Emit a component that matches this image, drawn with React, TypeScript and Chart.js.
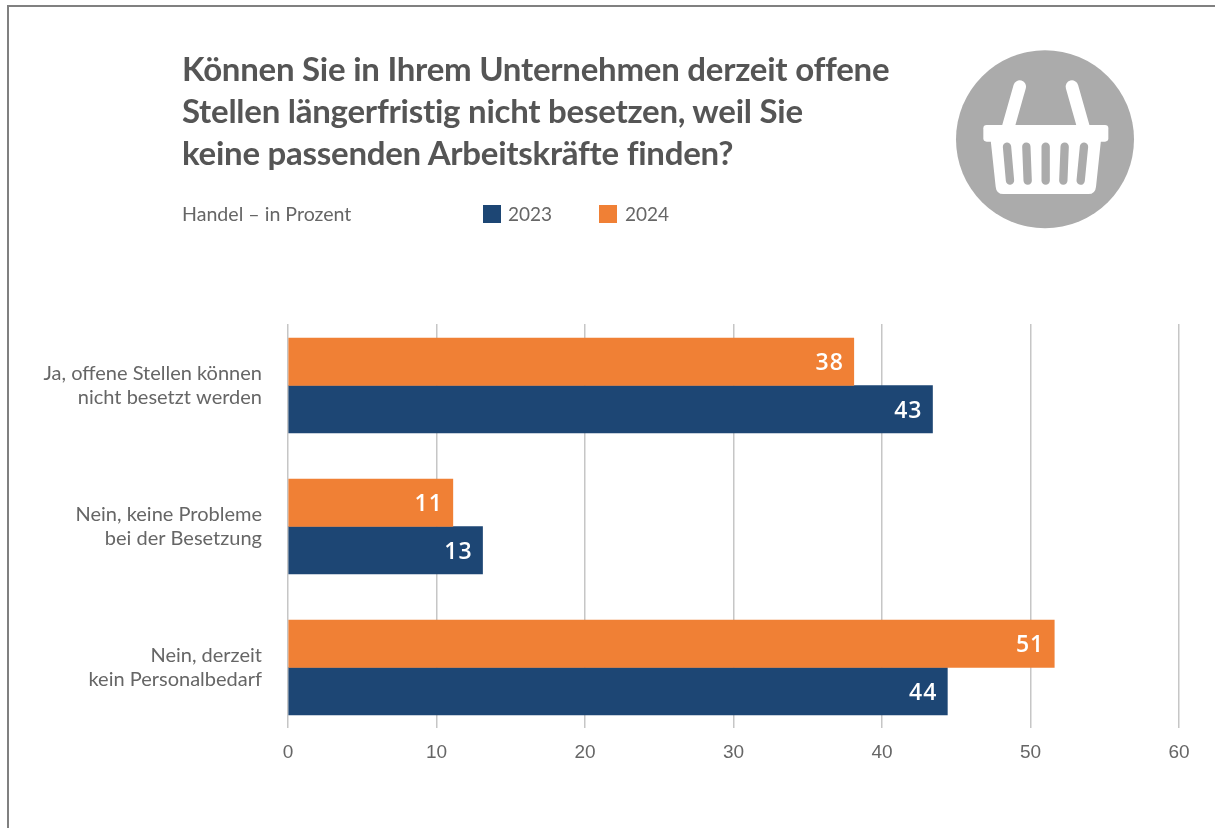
import React, { useEffect, useRef } from "react";
import { Chart, registerables } from "chart.js";

Chart.register(...registerables);

const titleLines = [
  "Können Sie in Ihrem Unternehmen derzeit offene",
  "Stellen längerfristig nicht besetzen, weil Sie",
  "keine passenden Arbeitskräfte finden?",
];
const subtitle = "Handel – in Prozent";
const categories = [
  ["Ja, offene Stellen können", "nicht besetzt werden"],
  ["Nein, keine Probleme", "bei der Besetzung"],
  ["Nein, derzeit", "kein Personalbedarf"],
];
const values2024 = [38.1, 11.1, 51.6];
const values2023 = [43.4, 13.1, 44.4];
const labels2024 = ["38", "11", "51"];
const labels2023 = ["43", "13", "44"];
const xTicks = [0, 10, 20, 30, 40, 50, 60];

const NAVY = "#1d4674";
const ORANGE = "#f08035";
const TEXT = "#666666";
const BODY_FONT = "Lato";

const valueLabels = {
  id: "valueLabels",
  afterDatasetsDraw(chart: any) {
    const { ctx } = chart;
    const texts = [labels2024, labels2023];
    ctx.save();
    ctx.fillStyle = "#ffffff";
    ctx.font = `600 23px "Open Sans"`;
    (ctx as any).letterSpacing = "1px";
    ctx.textAlign = "right";
    ctx.textBaseline = "middle";
    chart.data.datasets.forEach((_: any, d: number) => {
      chart.getDatasetMeta(d).data.forEach((bar: any, i: number) => {
        ctx.fillText(texts[d][i], bar.x - 10, bar.y + 2);
      });
    });
    ctx.restore();
  },
};

export default function App() {
  const ref = useRef<HTMLCanvasElement>(null);
  useEffect(() => {
    const chart = new Chart(ref.current!, {
      type: "bar",
      data: {
        datasets: [
          {
            label: "2024",
            backgroundColor: ORANGE,
            barThickness: 47.5,
            data: values2024.map((x, y) => ({ x, y })),
          },
          {
            label: "2023",
            backgroundColor: NAVY,
            barThickness: 47.5,
            data: values2023.map((x, y) => ({ x, y })),
          },
        ],
      } as any,
      plugins: [valueLabels],
      options: {
        indexAxis: "y",
        animation: false,
        responsive: false,
        layout: { padding: { top: 324, right: 36, left: 0, bottom: 0 } },
        plugins: { legend: { display: false }, tooltip: { enabled: false } },
        scales: {
          x: {
            type: "linear",
            position: "bottom",
            min: 0,
            max: 60,
            afterFit(axis: any) {
              axis.height = 100;
            },
            afterBuildTicks(axis: any) {
              axis.ticks = xTicks.map((value) => ({ value }));
            },
            border: { display: false },
            grid: { color: "#c6c6c6", lineWidth: 1.5, drawTicks: false },
            ticks: {
              padding: 13,
              color: TEXT,
              font: { family: "Liberation Sans", size: 19 },
              maxRotation: 0,
            },
          },
          y: {
            type: "linear",
            reverse: true,
            offset: false,
            min: -0.436,
            max: 2.429,
            afterFit(axis: any) {
              axis.width = 288;
            },
            afterBuildTicks(axis: any) {
              axis.ticks = categories.map((_, value) => ({ value }));
            },
            border: { display: false },
            grid: { display: false, offset: false, drawTicks: false },
            ticks: {
              autoSkip: false,
              padding: 26,
              color: TEXT,
              font: { family: BODY_FONT, size: 20, lineHeight: 1.2 },
              callback: (v: any) => categories[v] ?? "",
            },
          },
        },
      } as any,
    });
    return () => chart.destroy();
  }, []);

  const text = (style: React.CSSProperties): React.CSSProperties => ({
    position: "absolute",
    whiteSpace: "nowrap",
    color: TEXT,
    fontFamily: BODY_FONT,
    fontSize: 19,
    lineHeight: "24px",
    ...style,
  });

  return (
    <div style={{ position: "absolute", left: 0, top: 0, width: 1215, height: 828, overflow: "hidden", background: "#fff" }}>
      <canvas ref={ref} width={1215} height={828} style={{ position: "absolute", left: 0, top: 0 }} />
      <div style={{ position: "absolute", left: 7, top: 5, right: 0, bottom: 0, borderLeft: "2px solid #808080", borderTop: "2px solid #808080" }} />
      <div style={text({ left: 182, top: 47, fontFamily: "Lato", fontWeight: 700, fontSize: 33, letterSpacing: "-0.25px", lineHeight: "42px", color: "#555555" })}>
        {titleLines.map((l) => (
          <div key={l}>{l}</div>
        ))}
      </div>
      <div style={text({ left: 182, top: 202, fontSize: 19.6 })}>{subtitle}</div>
      <div style={{ position: "absolute", left: 483, top: 205, width: 18, height: 18, background: NAVY }} />
      <div style={text({ left: 508, top: 202 })}>2023</div>
      <div style={{ position: "absolute", left: 599, top: 205, width: 18, height: 18, background: ORANGE }} />
      <div style={text({ left: 625, top: 202 })}>2024</div>
      <svg style={{ position: "absolute", left: 930, top: 30 }} width={230} height={210} viewBox="0 0 690 630">
        <circle cx={345} cy={328} r={267} fill="#ababab" />
        <g stroke="#fff" strokeWidth={38} strokeLinecap="round" fill="none">
          <line x1={269} y1={170} x2={235} y2={290} />
          <line x1={426} y1={170} x2={460} y2={290} />
        </g>
        <rect x={160} y={285} width={375} height={50} rx={10} fill="#fff" />
        <path d="M182 330 L513 330 L498 470 Q496 492 475 492 L220 492 Q199 492 197 470 Z" fill="#fff" />
        <g stroke="#ababab" strokeWidth={25} strokeLinecap="round" fill="none">
          <line x1={231} y1={350} x2={240} y2={452} />
          <line x1={289} y1={350} x2={293} y2={452} />
          <line x1={347} y1={350} x2={347} y2={452} />
          <line x1={404} y1={350} x2={400} y2={452} />
          <line x1={462} y1={350} x2={452} y2={452} />
        </g>
      </svg>
    </div>
  );
}
